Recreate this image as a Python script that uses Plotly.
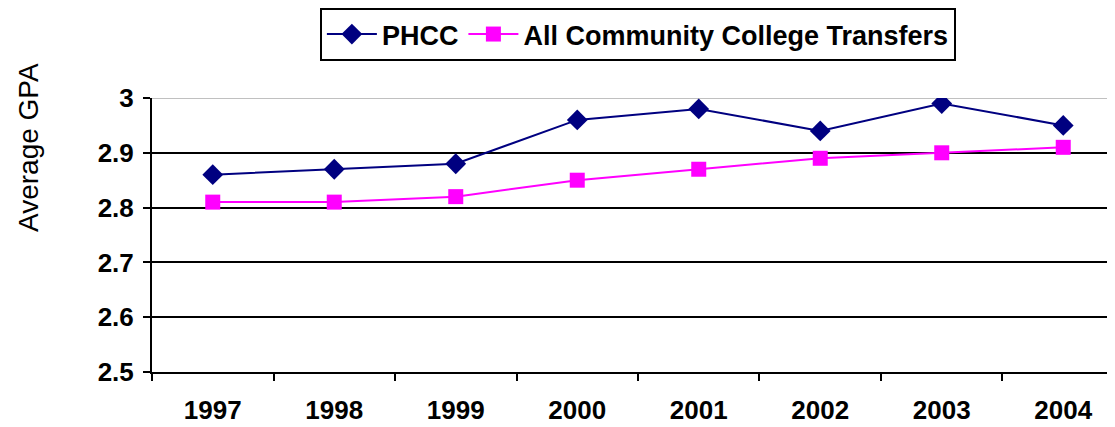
import plotly.graph_objects as go

years = ["1997", "1998", "1999", "2000", "2001", "2002", "2003", "2004"]
phcc = [2.86, 2.87, 2.88, 2.96, 2.98, 2.94, 2.99, 2.95]
all_cc = [2.81, 2.81, 2.82, 2.85, 2.87, 2.89, 2.90, 2.91]
y_ticks = [2.5, 2.6, 2.7, 2.8, 2.9, 3.0]
y_labels = ["2.5", "2.6", "2.7", "2.8", "2.9", "3"]

FAM = "Liberation Sans, Arial, sans-serif"

fig = go.Figure()
fig.add_trace(go.Scatter(
    x=years, y=phcc, name="PHCC", mode="lines+markers",
    line=dict(color="#000080", width=2),
    marker=dict(symbol="diamond", size=16, color="#000080"),
))
fig.add_trace(go.Scatter(
    x=years, y=all_cc, name="All Community College Transfers", mode="lines+markers",
    line=dict(color="#FF00FF", width=2),
    marker=dict(symbol="square", size=15, color="#FF00FF"),
))

font_b = dict(family=FAM, size=26, color="black", weight="bold")

fig.update_layout(
    width=1107, height=419,
    margin=dict(l=144, r=0, t=90, b=55),
    paper_bgcolor="white", plot_bgcolor="white",
    showlegend=True,
    legend=dict(
        orientation="h", xref="container", x=0.569, xanchor="center",
        yref="container", y=1.0, yanchor="top",
        bordercolor="black", borderwidth=2, bgcolor="white",
        font=dict(family=FAM, size=27, color="black", weight="bold"),
        itemwidth=50, tracegroupgap=0,
    ),
    xaxis=dict(
        type="category", range=[-0.5, 7.426],
        tickson="boundaries", ticks="outside", ticklen=7, tickwidth=2, tickcolor="black",
        showline=True, linecolor="black", linewidth=2,
        showgrid=False, tickfont=font_b, zeroline=False,
        ticklabelstandoff=14,
    ),
    yaxis=dict(
        range=[2.5, 3.0], tickvals=y_ticks, ticktext=y_labels,
        ticks="outside", ticklen=7, tickwidth=2, tickcolor="black",
        showline=True, linecolor="black", linewidth=2,
        showgrid=True, gridcolor="black", gridwidth=2,
        tickfont=font_b, zeroline=False,
        ticklabelstandoff=4,
    ),
    annotations=[dict(
        text="Average GPA", textangle=-90, showarrow=False,
        xref="paper", yref="paper", x=(20 - 144) / 963, y=1 - (148 - 8 - 90) / 274,
        xanchor="center", yanchor="middle",
        font=dict(family=FAM, size=28, color="black"),
    )],
)
fig.add_shape(type="line", xref="paper", yref="y", x0=0, x1=1, y0=3.0, y1=3.0,
              line=dict(color="#c0c0c0", width=2), layer="between")

fig.write_html("out.html")
